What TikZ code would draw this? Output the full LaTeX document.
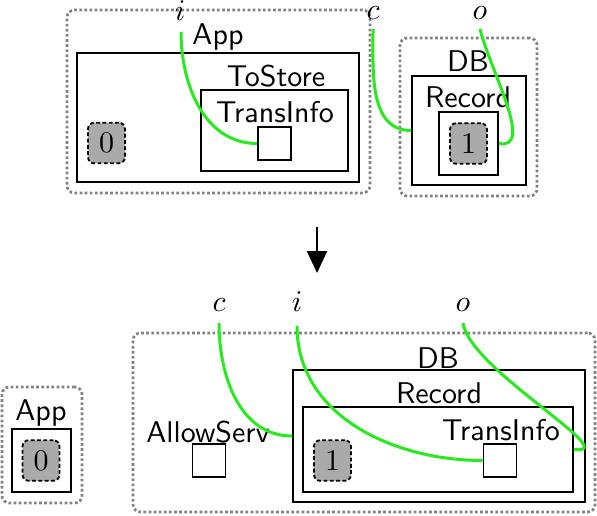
\documentclass[tikz,border=0pt]{standalone}
\usetikzlibrary{arrows.meta}
\definecolor{wirecol}{RGB}{40,235,30}
\definecolor{dotcol}{RGB}{130,130,130}
\definecolor{tokcol}{RGB}{170,170,170}
\begin{document}
\begin{tikzpicture}[x=0.33333pt,y=0.33333pt,
  dotbox/.style={draw=dotcol,line width=0.9pt,dash pattern=on 0.9pt off 0.8pt,rounded corners=2.5pt,inner sep=0pt},
  solidbox/.style={draw,line width=0.6pt,inner sep=0pt},
  tok/.style={draw,fill=tokcol,line width=0.6pt,dash pattern=on 1.3pt off 0.8pt,rounded corners=2pt,inner sep=0pt,minimum width=12.3pt,minimum height=13.5pt},
  sq/.style={draw,line width=0.6pt,fill=white,inner sep=0pt,minimum size=11pt},
  lab/.style={anchor=base,inner sep=0pt,font=\sffamily},
  var/.style={anchor=base,inner sep=0pt},
  wire/.style={draw=wirecol,line width=1pt}]
\useasboundingbox (0,0) rectangle (597,-515);
% ---------- top ----------
\node[dotbox,minimum width=101pt,minimum height=61pt] (appD) at (218.5,-101.5) {};
\node[solidbox,minimum width=94pt,minimum height=43pt] (appB) at (218,-117.5) {};
\node[lab] (appL) at (218,-45) {App};
\node[solidbox,minimum width=49pt,minimum height=27pt] (toS) at (274.5,-130.5) {};
\node[lab] (toSL) at (276,-87) {ToStore};
\node[lab] (tiL) at (275,-123) {TransInfo};
\node[sq] (sq1) at (274.5,-143.5) {};
\node[tok] (tok0) at (106.5,-143) {$0$};
\node[dotbox,minimum width=45.7pt,minimum height=52.7pt] (dbD) at (468.5,-117) {};
\node[solidbox,minimum width=38pt,minimum height=36.3pt] (dbB) at (469,-130.5) {};
\node[lab] (dbL) at (468,-72) {DB};
\node[lab] (recL) at (468,-108) {Record};
\node[solidbox,minimum width=19.7pt,minimum height=21pt] (recB) at (468.5,-143.5) {};
\node[tok] (tok1) at (468.5,-143.5) {$1$};
\node[var] (iT) at (180,-21) {$i$};
\node[var] (cT) at (373,-20) {$c$};
\node[var] (oT) at (480,-20) {$o$};
\coordinate (iTs) at (181,-32);
\coordinate (cTs) at (373,-29);
\coordinate (oTs) at (480,-29);
\draw[wire] (iTs) to[out=-90,in=180] (sq1.west);
\draw[wire] (cTs) to[out=-90,in=180] (dbB.west);
\draw[wire] (oTs) .. controls (490,-70) and (535,-150) .. (recB.east);
% ---------- arrow ----------
\coordinate (arS) at (317,-227);
\coordinate (arE) at (317,-273);
\draw[line width=0.6pt,-{Triangle[length=7.3pt,width=6.7pt]}] (arS) -- (arE);
% ---------- bottom ----------
\node[dotbox,minimum width=26.7pt,minimum height=38.7pt] (appD2) at (42,-445) {};
\node[lab] (appL2) at (41,-420) {App};
\node[solidbox,minimum width=19.7pt,minimum height=21pt] (appB2) at (41.5,-460.5) {};
\node[tok] (tok0b) at (41,-460.5) {$0$};
\node[dotbox,minimum width=154pt,minimum height=59.7pt] (dbD2) at (364,-422.5) {};
\node[lab] (asL) at (208,-442) {AllowServ};
\node[sq] (asq) at (209,-460.5) {};
\node[solidbox,minimum width=97.3pt,minimum height=44pt] (dbB2) at (439,-436) {};
\node[lab] (dbL2) at (438,-368) {DB};
\node[solidbox,minimum width=90pt,minimum height=28.3pt] (recB2) at (438,-449.5) {};
\node[lab] (recL2) at (439,-403) {Record};
\node[lab] (tiL2) at (501,-440) {TransInfo};
\node[sq] (tsq) at (500,-460.5) {};
\node[tok] (tok1b) at (332.5,-460.5) {$1$};
\node[var] (cB) at (219,-312) {$c$};
\node[var] (iB) at (297,-312) {$i$};
\node[var] (oB) at (463,-312) {$o$};
\coordinate (cBs) at (219,-323);
\coordinate (iBs) at (297,-326);
\coordinate (oBs) at (463,-323);
\draw[wire] (cBs) to[out=-90,in=180] (dbB2.west);
\draw[wire] (iBs) to[out=-90,in=180] (tsq.west);
\draw[wire] (oBs) .. controls (470,-370) and (625,-455) .. (recB2.east);
\end{tikzpicture}
\end{document}
